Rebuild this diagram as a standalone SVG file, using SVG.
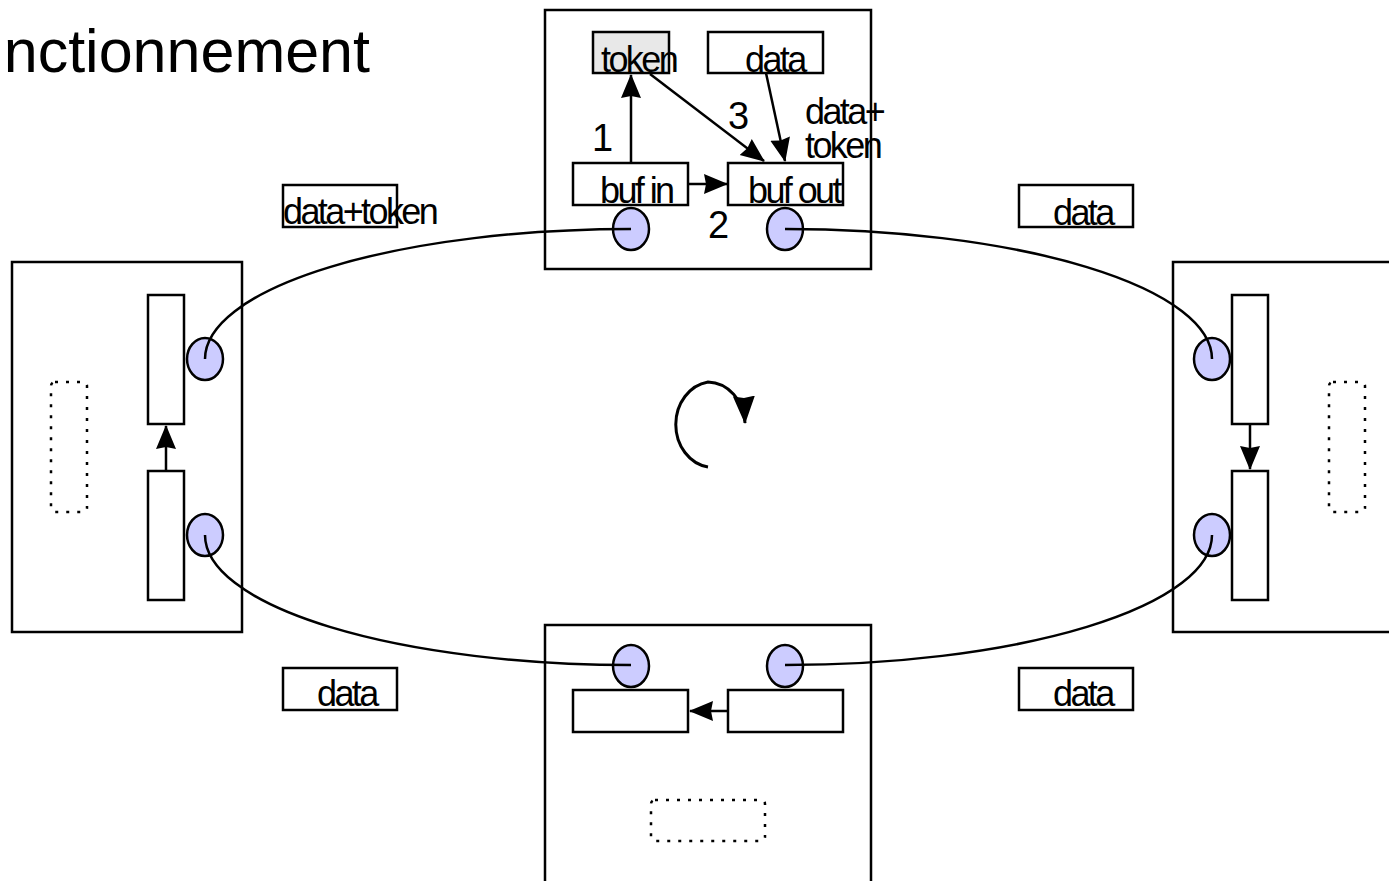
<svg xmlns="http://www.w3.org/2000/svg" width="1389" height="881" viewBox="0 0 1389 881">
<defs>
<style>
.box{fill:#fff;stroke:#000;stroke-width:2.5}
.buf{fill:#fff;stroke:#000;stroke-width:2.5}
.port{fill:#ccccff;stroke:#000;stroke-width:2.5}
.dot{fill:none;stroke:#000;stroke-width:2.5;stroke-dasharray:3 8}
.ln{fill:none;stroke:#000;stroke-width:2.5}
.arr{fill:none;stroke:#000;stroke-width:2.5;marker-end:url(#ah)}
.t{font-family:"Liberation Sans",Arial,sans-serif;font-size:36px;letter-spacing:-2.6px;fill:#000}
.n{font-family:"Liberation Sans",Arial,sans-serif;font-size:38px;fill:#000}
.title{font-family:"Liberation Sans",Arial,sans-serif;font-size:61px;fill:#000}
</style>
<marker id="ah" viewBox="0 0 24 22" refX="23" refY="11" markerWidth="24" markerHeight="22" markerUnits="userSpaceOnUse" orient="auto">
<path d="M0,1 L24,11 L0,21 L2,11 Z" fill="#000"/>
</marker>
<marker id="ahbig" viewBox="0 0 28 24" refX="27" refY="12" markerWidth="28" markerHeight="24" markerUnits="userSpaceOnUse" orient="auto">
<path d="M0,1 L28,12 L0,23 L2,12 Z" fill="#000"/>
</marker>
</defs>
<rect width="1389" height="881" fill="#fff"/>
<text class="title" x="370" y="72" text-anchor="end">nctionnement</text>

<g id="node-top">
<rect class="box" x="545" y="10" width="326" height="259"/>
<rect x="593" y="32" width="76" height="41" fill="#e8e8e8" stroke="#000" stroke-width="2.5"/>
<rect class="buf" x="708" y="32" width="115" height="41"/>
<rect class="buf" x="573" y="163" width="115" height="42"/>
<rect class="buf" x="728" y="163" width="115" height="42"/>
<text class="t" x="601" y="72">token</text>
<text class="t" x="745" y="72">data</text>
<text class="t" x="600" y="203">buf in</text>
<text class="t" x="748" y="203">buf out</text>
<ellipse class="port" cx="631" cy="229" rx="18" ry="21"/>
<ellipse class="port" cx="785" cy="229" rx="18" ry="21"/>
<text class="n" x="592" y="151">1</text>
<text class="n" x="708" y="238">2</text>
<text class="n" x="728" y="129">3</text>
<text class="t"><tspan x="805" y="124">data+</tspan><tspan x="805" y="158">token</tspan></text>
</g>

<g id="node-left">
<rect class="box" x="12" y="262" width="230" height="370"/>
<rect class="buf" x="148" y="295" width="36" height="129"/>
<rect class="buf" x="148" y="471" width="36" height="129"/>
<rect class="dot" x="51" y="382" width="36" height="130" rx="4"/>
<ellipse class="port" cx="205" cy="359" rx="18" ry="21"/>
<ellipse class="port" cx="205" cy="535" rx="18" ry="21"/>
</g>

<g id="node-right">
<rect class="box" x="1173" y="262" width="230" height="370"/>
<rect class="buf" x="1232" y="295" width="36" height="129"/>
<rect class="buf" x="1232" y="471" width="36" height="129"/>
<rect class="dot" x="1329" y="382" width="36" height="130" rx="4"/>
<ellipse class="port" cx="1212" cy="359" rx="18" ry="21"/>
<ellipse class="port" cx="1212" cy="535" rx="18" ry="21"/>
</g>

<g id="node-bottom">
<rect class="box" x="545" y="625" width="326" height="270"/>
<rect class="buf" x="573" y="690" width="115" height="42"/>
<rect class="buf" x="728" y="690" width="115" height="42"/>
<rect class="dot" x="651" y="800" width="114" height="41" rx="4"/>
<ellipse class="port" cx="631" cy="666" rx="18" ry="21"/>
<ellipse class="port" cx="785" cy="666" rx="18" ry="21"/>
</g>

<g id="label-tl">
<rect class="buf" x="283" y="185" width="114" height="42"/>
<text class="t" x="283" y="224">data+token</text>
</g>
<g id="label-tr">
<rect class="buf" x="1019" y="185" width="114" height="42"/>
<text class="t" x="1053" y="225">data</text>
</g>
<g id="label-bl">
<rect class="buf" x="283" y="668" width="114" height="42"/>
<text class="t" x="317" y="706">data</text>
</g>
<g id="label-br">
<rect class="buf" x="1019" y="668" width="114" height="42"/>
<text class="t" x="1053" y="706">data</text>
</g>

<g id="connectors">
<path class="ln" d="M205,359 A426,130 0 0 1 631,229"/>
<path class="ln" d="M785,229 A427,130 0 0 1 1212,359"/>
<path class="ln" d="M1212,535 A427,130 0 0 1 785,665"/>
<path class="ln" d="M631,665 A426,130 0 0 1 205,535"/>
<path class="arr" d="M631,163 L631,75"/>
<path class="arr" d="M650,74 L764,161"/>
<path class="arr" d="M766,73 L785,161"/>
<path class="arr" d="M688,184 L727,184"/>
<path class="arr" d="M166,471 L166,426"/>
<path class="arr" d="M1250,424 L1250,469"/>
<path class="arr" d="M728,711 L690,711"/>
<path style="fill:none;stroke:#000;stroke-width:3;marker-end:url(#ahbig)" d="M708,467 A38,43 0 0 1 708,382 A38,43 0 0 1 745,423"/>
</g>
</svg>
